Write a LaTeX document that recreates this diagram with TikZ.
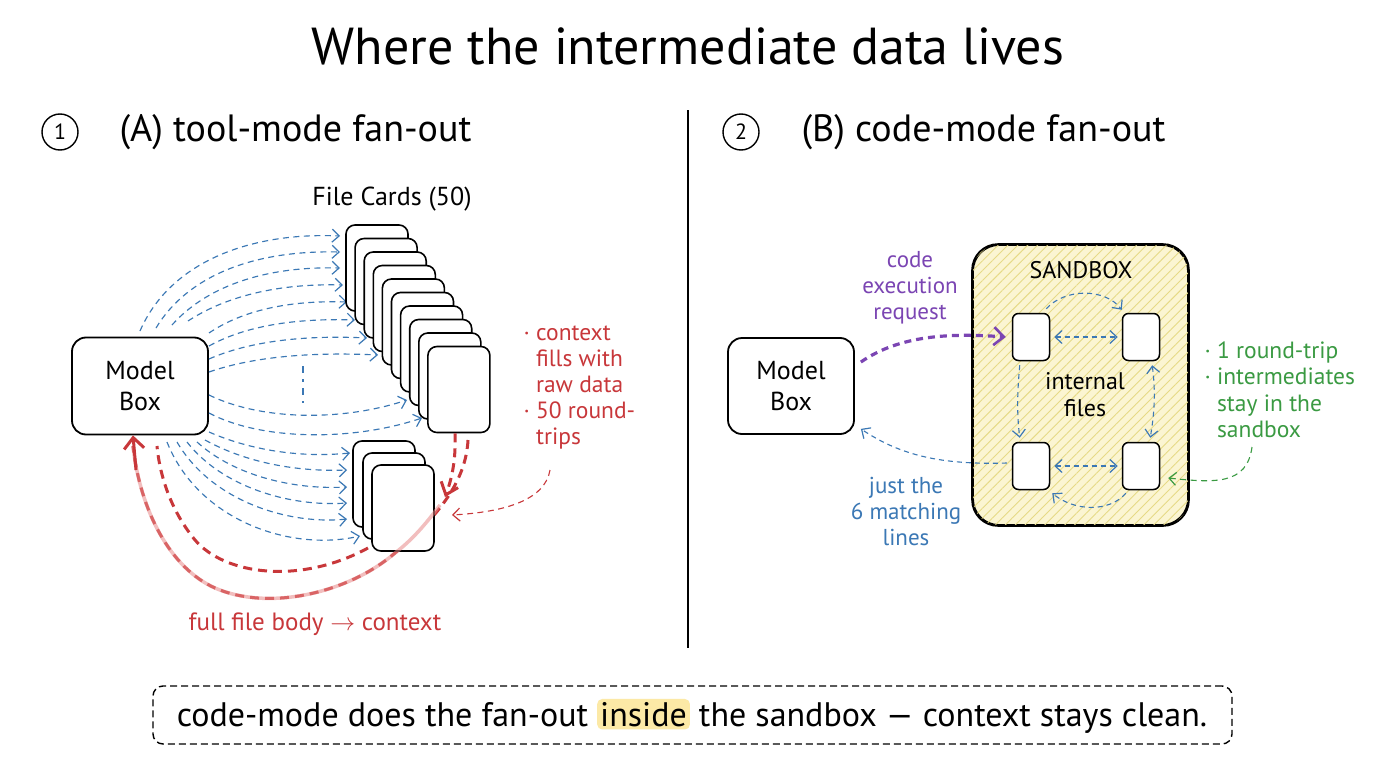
\documentclass[tikz,border=0pt]{standalone}
\usepackage{fontspec}
\setmainfont{PT Sans}
\usetikzlibrary{arrows.meta,patterns.meta,calc}
\definecolor{fanblue}{HTML}{3B78B5}
\definecolor{redc}{HTML}{C8373A}
\definecolor{pinkc}{HTML}{E88A8A}
\definecolor{purp}{HTML}{7B45B3}
\definecolor{greenc}{HTML}{3A9A42}
\definecolor{sandfill}{HTML}{FBF5D2}
\definecolor{hatchc}{HTML}{E6DA86}
\definecolor{hl}{HTML}{FCE9A6}
\tikzset{
  mbox/.style={draw, line width=1.8pt, rounded corners=14pt, fill=white, align=center,
    font=\fontsize{26}{31}\selectfont},
  card/.style={draw, line width=1.6pt, rounded corners=9pt, fill=white,
    minimum width=62pt, minimum height=86pt, inner sep=0pt},
  ifile/.style={draw, line width=1.5pt, rounded corners=6pt, fill=white,
    minimum width=37pt, minimum height=47pt, inner sep=0pt},
  barb/.tip={Straight Barb[length=7pt,width=13pt,line width=1.2pt]},
  fan/.style={draw=fanblue, dash pattern=on 6pt off 4.5pt, line width=1.15pt, -{barb}},
  reddash/.style={draw=redc, dash pattern=on 9pt off 6pt, line width=3pt},
  redthin/.style={draw=redc, dash pattern=on 6pt off 4.5pt, line width=1.1pt, -{barb}},
  inarrow/.style={draw=fanblue, dash pattern=on 5pt off 4pt, line width=1.1pt},
  numc/.style={draw, circle, line width=1.4pt, minimum size=36pt, inner sep=0pt,
    font=\fontsize{22}{24}\selectfont},
  head/.style={anchor=west, font=\fontsize{38}{42}\selectfont},
  lbl/.style={align=center, font=\fontsize{23}{26}\selectfont},
}
\begin{document}
\begin{tikzpicture}[x=1pt,y=-1pt]
\useasboundingbox (0,0) rectangle (1376,768);
\fill[white] (0,0) rectangle (1376,768);

% title
\node (title) at (688,46) {\fontsize{52}{58}\selectfont Where the intermediate data lives};

% divider
\coordinate (dtop) at (688,110);
\coordinate (dbot) at (688,648);
\draw[line width=1.4pt] (dtop) -- (dbot);

% headers
\node[numc] (n1) at (60,132) {1};
\node[head] (hA) at (116,132) {(A) tool-mode fan-out};
\node[numc] (n2) at (741,132) {2};
\node[head] (hB) at (798,132) {(B) code-mode fan-out};

% ---------------- left panel ----------------
\node[mbox, minimum width=136pt, minimum height=97pt] (mbA) at (140,386) {Model\\Box};

\node[font=\fontsize{26}{28}\selectfont] (fc) at (392,199) {File Cards (50)};

% blue fan to upper stack (drawn under cards)
\draw[fan] (140,331) .. controls (170,262) and (250,232) .. (340,236);
\draw[fan] (156,328) .. controls (188,275) and (255,250) .. (340,252);
\draw[fan] (172,325) .. controls (205,288) and (262,266) .. (340,268);
\draw[fan] (188,321) .. controls (220,300) and (270,283) .. (343,285);
\draw[fan] (209,333) .. controls (240,312) and (285,300) .. (347,302);
\draw[fan] (209,346) .. controls (245,326) and (295,318) .. (355,320);
\draw[fan] (209,359) .. controls (250,341) and (305,335) .. (367,338);
\draw[fan] (209,372) .. controls (255,356) and (315,352) .. (378,355);
\draw[fan] (209,395) .. controls (260,420) and (340,422) .. (407,400);
\draw[fan] (209,413) .. controls (260,440) and (350,442) .. (422,418);
% lower fan
\draw[fan] (209,432) .. controls (250,450) and (300,458) .. (350,453);
\draw[fan] (205,440) .. controls (245,462) and (295,472) .. (347,470);
\draw[fan] (197,442) .. controls (232,474) and (290,490) .. (347,487);
\draw[fan] (187,442) .. controls (222,487) and (290,507) .. (347,503);
\draw[fan] (177,442) .. controls (212,502) and (290,525) .. (347,519);
\draw[fan] (167,442) .. controls (198,520) and (290,552) .. (360,536);

% dots
\coordinate (d1) at (303,366);
\coordinate (d2) at (303,403);
\draw[fanblue, line width=1.4pt, dash pattern=on 7pt off 6pt on 3pt off 6pt] (d1) -- (d2);

% upper stack of cards
\foreach \i in {0,...,9}
  \node[card] (u\i) at ({377+9.1*\i},{268+13.5*\i}) {};

% red dashed paths (under lower cards)
\draw[reddash] (468,440) .. controls (466,480) and (440,515) .. (395,553)
   .. controls (350,592) and (270,612) .. (215,588)
   .. controls (170,568) and (140,510) .. (133,446);
\draw[reddash] (368,548) .. controls (300,585) and (225,575) .. (195,540)
   .. controls (172,512) and (160,478) .. (157,446);

% lower stack
\node[card] (l0) at (384,484) {};
\node[card] (l1) at (394,496) {};
\node[card] (l2) at (403,508) {};

% faded overlay + arrow back to model box
\draw[pinkc, opacity=0.55, line width=3.5pt] (440,505) .. controls (425,525) and (412,540) .. (395,553)
   .. controls (350,592) and (270,612) .. (215,588)
   .. controls (170,568) and (140,510) .. (133,446);
\draw[redc, line width=3pt, -{Straight Barb[length=11pt,width=20pt,line width=3pt]}]
   (136,470) -- (mbA.south west -| 133,442) ;
\draw[reddash, -{Straight Barb[length=11pt,width=18pt,line width=3pt]}]
   (u9.south -| 455,438) .. controls (456,460) and (452,478) .. (445,497);

% red note
\node[anchor=north west, align=left, text=redc, font=\fontsize{23.5}{26}\selectfont] (note) at (520,322)
  {· context\\\hphantom{· }fills with\\\hphantom{· }raw data\\· 50 round-\\\hphantom{· }trips};
\coordinate (nstart) at (550,470);
\draw[redthin] (nstart) .. controls (545,500) and (505,512) .. (452,515);

\node[text=redc, font=\fontsize{25}{28}\selectfont] (ffb) at (315,624) {full file body $\rightarrow$ context};

% ---------------- right panel ----------------
\node[mbox, minimum width=126pt, minimum height=96pt] (mbB) at (791,386) {Model\\Box};

\node[draw, line width=1.8pt, rounded corners=26pt, fill=sandfill,
      minimum width=215pt, minimum height=280pt] (sb) at (1080.5,385) {};
\fill[pattern={Lines[angle=45,distance=7pt,line width=0.9pt]}, pattern color=hatchc,
      rounded corners=25pt] ($(sb.north west)+(1,-1)$) rectangle ($(sb.south east)+(-1,1)$);
\draw[line width=1.8pt, rounded corners=26pt] (sb.north west) rectangle (sb.south east);
\node[font=\fontsize{24}{26}\selectfont] (sbl) at (1081,270) {SANDBOX};

\node[ifile] (tl) at (1031,337) {};
\node[ifile] (tr) at (1141,337) {};
\node[ifile] (bl) at (1031,466) {};
\node[ifile] (br) at (1141,466) {};
\node[lbl, font=\fontsize{24}{27}\selectfont] (inf) at (1085,395) {internal\\files};

\draw[inarrow, {barb}-{barb}] ($(tl.east)+(4,0)$) -- ($(tr.west)+(-4,0)$);
\draw[inarrow, {barb}-{barb}] ($(bl.east)+(4,0)$) -- ($(br.west)+(-4,0)$);
\draw[inarrow, -{barb}] ($(tl.north east)+(-4,-4)$) .. controls (1065,288) and (1105,288) .. ($(tr.north west)+(0,-3)$);
\draw[inarrow, -{barb}] ($(tl.south west)+(8,4)$) .. controls (1017,395) and (1017,415) .. ($(bl.north west)+(8,-4)$);
\draw[inarrow, {barb}-{barb}] ($(tr.south east)+(-8,4)$) .. controls (1156,395) and (1154,415) .. ($(br.north east)+(-10,-4)$);
\draw[inarrow, -{barb}] ($(br.south west)+(4,3)$) .. controls (1110,512) and (1075,512) .. ($(bl.south east)+(2,3)$);

% purple request
\draw[purp, line width=3.2pt, dash pattern=on 7pt off 5pt,
      -{Straight Barb[length=10pt,width=18pt,line width=2.6pt]}]
  ($(mbB.east)+(6,-24)$) .. controls (900,335) and (950,333) .. ($(tl.west)+(-6,0)$);
\node[lbl, text=purp] (req) at (910,288) {code\\execution\\request};

% blue return
\draw[inarrow, -{barb}] ($(bl.west)+(-5,-3)$) .. controls (940,465) and (900,455) .. ($(mbB.south east)+(6,-6)$);
\node[lbl, text=fanblue] (ret) at (906,511) {just the\\6 matching\\lines};

% green note
\node[anchor=north west, align=left, text=greenc, font=\fontsize{23.5}{26.5}\selectfont] (gn) at (1201,338)
  {· 1 round-trip\\· intermediates\\\hphantom{· }stay in the\\\hphantom{· }sandbox};
\coordinate (gstart) at (1252,447);
\draw[draw=greenc, dash pattern=on 6pt off 4.5pt, line width=1.1pt, -{barb}]
  (gstart) .. controls (1247,485) and (1215,483) .. ($(br.east)+(8,12)$);

% ---------------- caption ----------------
\node[draw, dash pattern=on 7pt off 4pt, line width=1.4pt, rounded corners=10pt,
      minimum width=1079pt, minimum height=58pt] (cap) at (692.5,715) {};
\node[font=\fontsize{34}{38}\selectfont] (capt) at (692,716)
  {code-mode does the fan-out \tikz[baseline=(hw.base)]\node[fill=hl, rounded corners=5pt, inner sep=3pt, outer sep=0pt](hw){inside}; the sandbox — context stays clean.};
\end{tikzpicture}
\end{document}
